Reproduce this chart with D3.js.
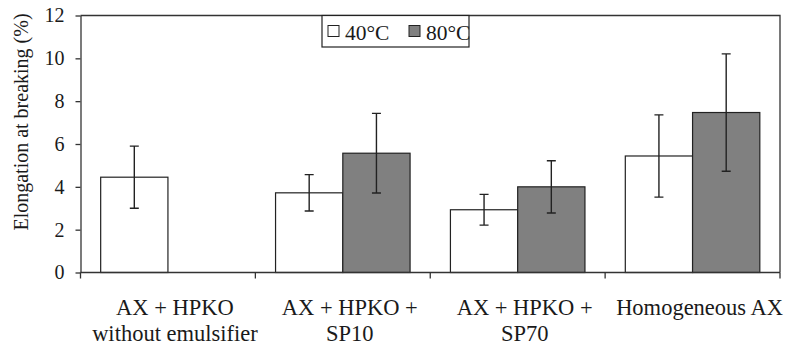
<!DOCTYPE html>
<html>
<head>
<meta charset="utf-8">
<script src="https://cdn.jsdelivr.net/npm/d3@7"></script>
<style>
  body { margin: 0; background: #fff; }
  svg text { font-family: "Liberation Serif", "Times New Roman", serif; fill: #1a1a1a; }
</style>
</head>
<body>
<div id="chart"></div>
<script>
// data
const categories = [
    ['AX + HPKO', 'without emulsifier'],
    ['AX + HPKO +', 'SP10'],
    ['AX + HPKO +', 'SP70'],
    ['Homogeneous AX']
];
const seriesNames = ['40°C', '80°C'];
const mean40 = [4.45, 3.72, 2.93, 5.44];
const err40 = [1.45, 0.85, 0.72, 1.92];
const mean80 = [null, 5.57, 4.0, 7.47];
const err80 = [null, 1.86, 1.22, 2.74];
const yTicks = [0, 2, 4, 6, 8, 10, 12];

const W = 787, H = 345;
const plot = {left: 80.5, right: 780, top: 15.5, bottom: 272.5};
const fills = {'40°C': '#ffffff', '80°C': '#808080'};
const stroke = '#222';

const svg = d3.select('#chart').append('svg')
    .attr('width', W)
    .attr('height', H);

const catKeys = categories.map((c, i) => i);

const x = d3.scaleBand()
    .domain(catKeys)
    .range([plot.left, plot.right])
    .paddingInner(0)
    .paddingOuter(0);

const xSub = d3.scaleBand()
    .domain(seriesNames)
    .range([0, x.bandwidth()])
    .paddingInner(0)
    .paddingOuter(0.3);

const y = d3.scaleLinear()
    .domain([0, 12])
    .range([plot.bottom, plot.top]);

// Build rows for the bars
const rows = [];
catKeys.forEach(i => {
    rows.push({cat: i, series: '40°C', value: mean40[i], err: err40[i]});
    if (mean80[i] != null) rows.push({cat: i, series: '80°C', value: mean80[i], err: err80[i]});
});

// plot frame (top and right)
svg.append('path')
    .attr('d', `M${plot.left},${plot.top}H${plot.right}V${plot.bottom}`)
    .attr('fill', 'none')
    .attr('stroke', '#333')
    .attr('stroke-width', 1.3);

// Bars
svg.selectAll('.bar')
    .data(rows)
    .enter().append('rect')
    .attr('class', 'bar')
    .attr('x', d => x(d.cat) + xSub(d.series))
    .attr('y', d => y(d.value))
    .attr('width', xSub.bandwidth())
    .attr('height', d => y(0) - y(d.value))
    .attr('fill', d => fills[d.series])
    .attr('stroke', stroke)
    .attr('stroke-width', 1.2);

// Error bars
const cap = 4.5;
const errG = svg.selectAll('.err')
    .data(rows)
    .enter().append('g')
    .attr('class', 'err')
    .attr('transform', d => `translate(${x(d.cat) + xSub(d.series) + xSub.bandwidth() / 2},0)`);

errG.append('path')
    .attr('d', d => {
        const t = y(d.value + d.err), b = y(d.value - d.err);
        return `M0,${t}V${b}M${-cap},${t}H${cap}M${-cap},${b}H${cap}`;
    })
    .attr('fill', 'none')
    .attr('stroke', stroke)
    .attr('stroke-width', 1.4);

// Y axis
const yAxis = svg.append('g')
    .attr('transform', `translate(${plot.left},0)`)
    .call(d3.axisLeft(y).tickValues(yTicks).tickSize(5).tickPadding(11).tickSizeOuter(0));
yAxis.select('.domain').attr('stroke', '#333').attr('stroke-width', 1.3);
yAxis.selectAll('.tick line').attr('stroke', '#333').attr('stroke-width', 1.3);
yAxis.selectAll('.tick text')
    .style('font-size', '20px')
    .style('font-family', '"Liberation Serif", serif')
    .attr('fill', '#1a1a1a');

// X axis: baseline plus ticks at category boundaries
svg.append('line')
    .attr('x1', plot.left).attr('x2', plot.right)
    .attr('y1', y(0)).attr('y2', y(0))
    .attr('stroke', '#333').attr('stroke-width', 1.3);

const bounds = catKeys.map(i => x(i)).concat([x.range()[1]]);
svg.selectAll('.xtick')
    .data(bounds)
    .enter().append('line')
    .attr('class', 'xtick')
    .attr('x1', d => d).attr('x2', d => d)
    .attr('y1', y(0)).attr('y2', y(0) + 6)
    .attr('stroke', '#333').attr('stroke-width', 1.3);

// Category labels (sit a little right of the band centre, as in the figure)
const labels = svg.selectAll('.xlabel')
    .data(categories)
    .enter().append('text')
    .attr('class', 'xlabel')
    .attr('text-anchor', 'middle')
    .style('font-size', '22.5px');

labels.selectAll('tspan')
    .data((d, i) => d.map(line => ({line, i})))
    .enter().append('tspan')
    .attr('x', d => x(d.i) + x.bandwidth() / 2 + 7)
    .attr('y', (d, j) => 315 + j * 26)
    .text(d => d.line);

// Y axis title
svg.append('text')
    .attr('transform', `translate(28,122) rotate(-90)`)
    .attr('text-anchor', 'middle')
    .style('font-size', '20px')
    .text('Elongation at breaking (%)');

// Legend
const legend = svg.append('g')
    .attr('transform', 'translate(322,15.5)');

legend.append('rect')
    .attr('width', 147)
    .attr('height', 31.5)
    .attr('fill', '#fff')
    .attr('stroke', '#222')
    .attr('stroke-width', 1.2);

const legendX = [6, 87];
seriesNames.forEach((s, i) => {
    legend.append('rect')
        .attr('x', legendX[i])
        .attr('y', 10)
        .attr('width', 11)
        .attr('height', 11)
        .attr('fill', fills[s])
        .attr('stroke', '#222')
        .attr('stroke-width', 1);
    legend.append('text')
        .attr('x', legendX[i] + 17)
        .attr('y', 24.5)
        .style('font-size', '21.5px')
        .text(s);
});
</script>
</body>
</html>
